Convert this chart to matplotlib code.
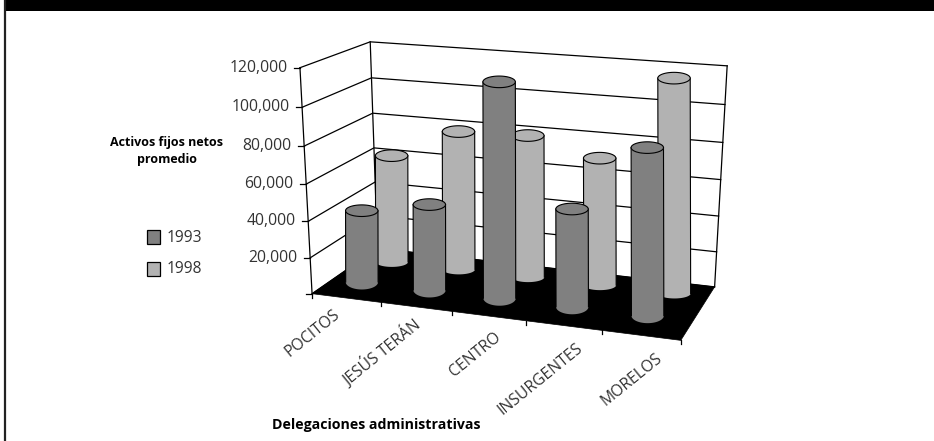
import matplotlib
matplotlib.use("Agg")
import matplotlib.pyplot as plt
from matplotlib.patches import Rectangle, Polygon
import numpy as np

categories = ["POCITOS", "JESÚS TERÁN", "CENTRO", "INSURGENTES", "MORELOS"]
series_names = ["1993", "1998"]
values_1993 = [39100, 46000, 114500, 50800, 85700]
values_1998 = [59300, 75600, 76300, 67200, 111900]
y_ticks = [0, 20000, 40000, 60000, 80000, 100000, 120000]
y_labels = ["", "20,000", "40,000", "60,000", "80,000", "100,000", "120,000"]

DARK = "#808080"
LIGHT = "#b2b2b2"
YMAX = 120000

plt.rcParams["font.family"] = ["Open Sans", "DejaVu Sans"]

# box corners: (category, depth, value) -> picture pixels, used to fit the perspective
box_3d = [(0, 0, 0), (5, 0, 0), (0, 1, 0), (5, 1, 0),
          (0, 0, YMAX), (5, 0, YMAX), (0, 1, YMAX), (5, 1, YMAX)]
box_px = [(311, 292), (680.5, 340), (378.3, 250), (715, 287),
          (300, 67), (694, 100), (370.3, 42.3), (725.7, 63.3)]

# the cylinders do not quite follow the box perspective, so they get their own fit
DEPTH_FRONT, DEPTH_BACK = 0.27, 0.72
bars_3d = [(0.5, DEPTH_FRONT, 0), (4.5, DEPTH_FRONT, 0), (0.5, DEPTH_BACK, 0), (4.5, DEPTH_BACK, 0),
           (0.5, DEPTH_FRONT, YMAX), (4.5, DEPTH_FRONT, YMAX), (0.5, DEPTH_BACK, YMAX), (4.5, DEPTH_BACK, YMAX)]
bars_px = [(362.8, 284), (646.8, 316), (391, 260), (675.2, 293),
           (362.2, 63), (646.2, 78), (390.6, 47), (675, 65)]


def fit_projection(src, dst):
    rows = []
    for (a, b, c), (px, py) in zip(src, dst):
        c = c / YMAX
        rows.append([a, b, c, 1, 0, 0, 0, 0, -px * a, -px * b, -px * c, -px])
        rows.append([0, 0, 0, 0, a, b, c, 1, -py * a, -py * b, -py * c, -py])
    return np.linalg.svd(np.array(rows))[2][-1].reshape(3, 4)


P_box = fit_projection(box_3d, box_px)
P_bars = fit_projection(bars_3d, bars_px)


def project(cat, depth, val, P=P_box):
    q = P @ np.array([cat, depth, val / YMAX, 1.0])
    return q[0] / q[2], q[1] / q[2]


fig = plt.figure(figsize=(9.34, 4.41), dpi=100)
ax = fig.add_axes([0, 0, 1, 1])
ax.set_xlim(0, 934)
ax.set_ylim(441, 0)
ax.axis("off")

# page frame
ax.add_patch(Rectangle((4, 0), 930, 11, color="black", lw=0))
ax.plot([5.2, 5.2], [0, 441], color="#222222", lw=1.6)

# walls and gridlines
for t in y_ticks:
    fl, bl, br = project(0, 0, t), project(0, 1, t), project(5, 1, t)
    ax.plot([fl[0], bl[0], br[0]], [fl[1], bl[1], br[1]], color="black", lw=0.9, zorder=1)
    ax.plot([fl[0] - 6, fl[0]], [fl[1], fl[1]], color="black", lw=0.9, zorder=1)
for c, d in [(0, 0), (0, 1), (5, 1)]:
    a, b = project(c, d, 0), project(c, d, YMAX)
    ax.plot([a[0], b[0]], [a[1], b[1]], color="black", lw=0.9, zorder=1)

for t, lab in zip(y_ticks, y_labels):
    px, py = project(0, 0, t)
    ax.text(px - 12.5, py, lab, ha="right", va="center", fontsize=11.3, color="#333333")

# floor
floor = [project(0, 0, 0), project(5, 0, 0), project(5, 1, 0), project(0, 1, 0)]
ax.add_patch(Polygon(floor, closed=True, fc="black", ec="black", lw=0.5, zorder=2))

# x ticks and labels
for i in range(6):
    px, py = project(i, 0, 0)
    ax.plot([px, px], [py, py + 4], color="black", lw=0.9, zorder=1)
label_dx = [-8, 2, 10, 17, 19]
label_dy = [15, 16, 19, 21, 21]
for i, name in enumerate(categories):
    px, py = project(i + 0.5, 0, 0)
    ax.text(px + label_dx[i], py + label_dy[i], name, rotation=39, ha="right", va="center",
            rotation_mode="anchor", fontsize=11.3, color="#333333")


def cylinder(cat, depth, val, color, z, base_h):
    half_w = 16.2
    top_h = 5.8
    x0, y0 = project(cat, depth, 0, P_bars)
    x1, y1 = project(cat, depth, val, P_bars)
    th = np.linspace(0, np.pi, 40)
    # body: base front arc, then top edge
    bx = x0 + half_w * np.cos(th)
    by = y0 + base_h * np.sin(th)
    tx = x1 - half_w * np.cos(th)
    ty = y1 + top_h * np.sin(th)
    body = np.column_stack([np.r_[bx, tx], np.r_[by, ty]])
    ax.add_patch(Polygon(body, closed=True, fc=color, ec="none", zorder=z))
    ax.plot([x0 + half_w, x1 + half_w], [y0, y1], color="black", lw=0.8, zorder=z)
    ax.plot([x0 - half_w, x1 - half_w], [y0, y1], color="black", lw=0.8, zorder=z)
    th2 = np.linspace(0, 2 * np.pi, 80)
    cap = np.column_stack([x1 + half_w * np.cos(th2), y1 + top_h * np.sin(th2)])
    ax.add_patch(Polygon(cap, closed=True, fc=color, ec="black", lw=0.8, zorder=z))


for i, v in enumerate(values_1998):
    cylinder(i + 0.5, DEPTH_BACK, v, LIGHT, 3 + i * 0.1, 5.0)
for i, v in enumerate(values_1993):
    cylinder(i + 0.5, DEPTH_FRONT, v, DARK, 5 + i * 0.1, 7.5)

# legend
for name, col, ly in zip(series_names, [DARK, LIGHT], [237, 268.7]):
    ax.add_patch(Rectangle((147, ly - 6.8), 13, 13.6, fc=col, ec="black", lw=0.9))
    ax.text(166.5, ly + 0.5, name, ha="left", va="center", fontsize=11.2, color="#333333")

ax.text(167, 151, "Activos fijos netos\npromedio", ha="center", va="center",
        fontsize=9, fontweight="bold", color="black", linespacing=1.35)
ax.text(376, 425.5, "Delegaciones administrativas", ha="center", va="center",
        fontsize=10.2, fontweight="bold", color="black")

fig.savefig("out.png", dpi=100)
